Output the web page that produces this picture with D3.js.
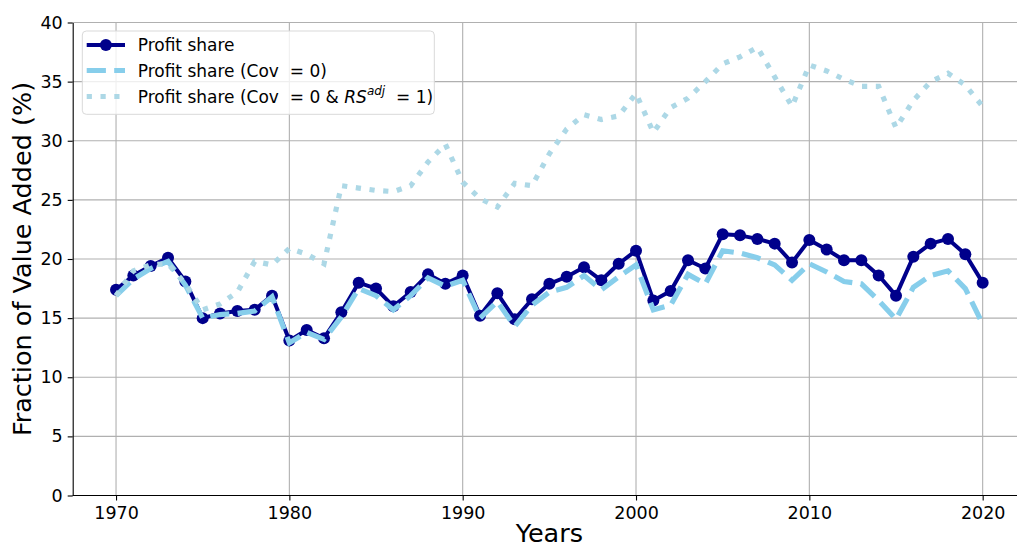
<!DOCTYPE html>
<html>
<head>
<meta charset="utf-8">
<script src="https://cdn.jsdelivr.net/npm/d3@7"></script>
<style>
  body { margin: 0; background: #fff; }
  svg { display: block; font-family: "DejaVu Sans", sans-serif; }
  text { white-space: pre; }
</style>
</head>
<body>
<div id="chart"></div>
<script>
// years on the x axis
var years = [1970, 1971, 1972, 1973, 1974, 1975, 1976, 1977, 1978, 1979,
  1980, 1981, 1982, 1983, 1984, 1985, 1986, 1987, 1988, 1989,
  1990, 1991, 1992, 1993, 1994, 1995, 1996, 1997, 1998, 1999,
  2000, 2001, 2002, 2003, 2004, 2005, 2006, 2007, 2008, 2009,
  2010, 2011, 2012, 2013, 2014, 2015, 2016, 2017, 2018, 2019, 2020];

// Profit share
var profitShare = [17.4, 18.6, 19.4, 20.1, 18.1, 15.0, 15.4, 15.6, 15.7, 16.9,
  13.1, 14.0, 13.3, 15.5, 18.0, 17.5, 16.0, 17.2, 18.7, 17.9,
  18.6, 15.2, 17.1, 14.9, 16.6, 17.9, 18.5, 19.3, 18.2, 19.6,
  20.7, 16.5, 17.3, 19.9, 19.2, 22.1, 22.0, 21.7, 21.3, 19.7,
  21.6, 20.8, 19.9, 19.9, 18.6, 16.9, 20.2, 21.3, 21.7, 20.4, 18.0];

// Profit share (Cov = 0)
var profitCovZero = [16.9, 18.3, 19.2, 19.8, 17.8, 15.0, 15.3, 15.4, 15.6, 16.8,
  12.9, 13.8, 13.2, 15.1, 17.5, 16.9, 15.7, 16.9, 18.4, 17.7,
  18.2, 15.0, 16.4, 14.3, 16.1, 17.2, 17.6, 18.6, 17.4, 18.5,
  19.5, 15.7, 16.1, 18.7, 17.9, 20.7, 20.5, 20.1, 19.5, 18.2,
  19.6, 18.9, 18.1, 17.9, 16.5, 14.9, 17.6, 18.6, 19.0, 17.5, 14.5];

// Profit share (Cov = 0 & RS adj = 1)
var profitCovZeroRs = [16.9, 19.0, 19.5, 19.6, 17.9, 15.7, 16.2, 17.2, 19.8, 19.5,
  20.9, 20.4, 19.6, 26.2, 26.0, 25.8, 25.7, 26.2, 28.2, 29.7,
  26.5, 25.1, 24.4, 26.4, 26.2, 28.9, 31.0, 32.2, 31.8, 32.1,
  34.0, 30.7, 32.8, 33.6, 35.0, 36.5, 37.1, 37.9, 35.4, 32.9,
  36.4, 35.9, 35.2, 34.6, 34.6, 31.1, 33.4, 35.0, 35.7, 34.7, 32.9];

var xTicks = [1970, 1980, 1990, 2000, 2010, 2020];
var yTicks = [0, 5, 10, 15, 20, 25, 30, 35, 40];

const width = 1017, height = 547;
const margin = { top: 22.5, right: -9, bottom: 51.5, left: 72.7 };

const svg = d3.select("#chart")
  .append("svg")
  .attr("width", width)
  .attr("height", height);

const x = d3.scaleLinear()
  .domain([1967.5, 2022.5])
  .range([margin.left, width - margin.right]);
const y = d3.scaleLinear()
  .domain([0, 40])
  .range([height - margin.bottom, margin.top]);

// grid
svg.append("g")
  .selectAll("line")
  .data(yTicks)
  .enter().append("line")
  .attr("x1", margin.left).attr("x2", width)
  .attr("y1", d => y(d)).attr("y2", d => y(d))
  .attr("stroke", "#b0b0b0").attr("stroke-width", 1.1);
svg.append("g")
  .selectAll("line")
  .data(xTicks)
  .enter().append("line")
  .attr("x1", d => x(d)).attr("x2", d => x(d))
  .attr("y1", y(0)).attr("y2", y(40))
  .attr("stroke", "#b0b0b0").attr("stroke-width", 1.1);

// axes
const xAxis = svg.append("g")
  .attr("transform", "translate(0," + y(0) + ")")
  .call(d3.axisBottom(x).tickValues(xTicks).tickFormat(d3.format("d")).tickSize(5).tickPadding(6).tickSizeOuter(0));
const yAxis = svg.append("g")
  .attr("transform", "translate(" + margin.left + ",0)")
  .call(d3.axisLeft(y).tickValues(yTicks).tickSize(5).tickPadding(5).tickSizeOuter(0));
[xAxis, yAxis].forEach(a => {
  a.selectAll("text").style("font-size", "17.5px").style("fill", "#000").style("font-family", "DejaVu Sans");
  a.select(".domain").attr("stroke", "#000").attr("stroke-width", 1.1);
  a.selectAll(".tick line").attr("stroke", "#000").attr("stroke-width", 1.1);
});
xAxis.select(".domain").attr("d", "M" + margin.left + ",0H" + width);

// axis labels
svg.append("text")
  .attr("x", x(1995))
  .attr("y", 542)
  .attr("text-anchor", "middle")
  .style("font-size", "25.5px")
  .text("Years");
svg.append("text")
  .attr("transform", "translate(31," + ((y(0) + y(40)) / 2) + ") rotate(-90)")
  .attr("text-anchor", "middle")
  .style("font-size", "25.5px")
  .text("Fraction of Value Added (%)");

const line = d3.line()
  .x((d, i) => x(years[i]))
  .y(d => y(d));

// Profit share
svg.append("path")
  .datum(profitShare)
  .attr("d", line)
  .attr("fill", "none")
  .attr("stroke", "#00008b")
  .attr("stroke-width", 4)
  .attr("stroke-linejoin", "round");
svg.append("g")
  .selectAll("circle")
  .data(profitShare)
  .enter().append("circle")
  .attr("cx", (d, i) => x(years[i]))
  .attr("cy", d => y(d))
  .attr("r", 6)
  .attr("fill", "#00008b");

// Cov = 0 (dashed)
svg.append("path")
  .datum(profitCovZero)
  .attr("d", line)
  .attr("fill", "none")
  .attr("stroke", "#87ceeb")
  .attr("stroke-width", 5.2)
  .attr("stroke-dasharray", "19.2,8.3");

// Cov = 0 & RS adj = 1 (dotted)
svg.append("path")
  .datum(profitCovZeroRs)
  .attr("d", line)
  .attr("fill", "none")
  .attr("stroke", "#add8e6")
  .attr("stroke-width", 5.2)
  .attr("stroke-dasharray", "5.2,8.6");

// legend
const legend = svg.append("g");
legend.append("rect")
  .attr("x", 82.3).attr("y", 31)
  .attr("width", 352).attr("height", 83.3)
  .attr("rx", 4)
  .attr("fill", "#fff").attr("fill-opacity", 0.8)
  .attr("stroke", "#d9d9d9").attr("stroke-width", 1);

var rows = [45, 70.5, 96.5];
legend.append("line")
  .attr("x1", 86.7).attr("x2", 125).attr("y1", rows[0]).attr("y2", rows[0])
  .attr("stroke", "#00008b").attr("stroke-width", 4);
legend.append("circle")
  .attr("cx", 105.9).attr("cy", rows[0]).attr("r", 6).attr("fill", "#00008b");
legend.append("line")
  .attr("x1", 86.7).attr("x2", 125).attr("y1", rows[1]).attr("y2", rows[1])
  .attr("stroke", "#87ceeb").attr("stroke-width", 5.2).attr("stroke-dasharray", "19.2,8.3");
legend.append("line")
  .attr("x1", 86.7).attr("x2", 125).attr("y1", rows[2]).attr("y2", rows[2])
  .attr("stroke", "#add8e6").attr("stroke-width", 5.2).attr("stroke-dasharray", "5.2,8.6");

legend.append("text")
  .attr("x", 137.7).attr("y", rows[0] + 6)
  .style("font-size", "17px")
  .text("Profit share");
legend.append("text")
  .attr("x", 137.7).attr("y", rows[1] + 6)
  .style("font-size", "17px")
  .text("Profit share (Cov  = 0)");
const t3 = legend.append("text")
  .attr("x", 137.7).attr("y", rows[2] + 6)
  .style("font-size", "17px");
t3.append("tspan").text("Profit share (Cov  = 0 & ");
t3.append("tspan").style("font-style", "italic").text("RS");
t3.append("tspan").style("font-style", "italic").style("font-size", "12px").attr("dy", -7.5).text("adj");
t3.append("tspan").attr("dy", 7.5).text("  = 1)");
</script>
</body>
</html>
